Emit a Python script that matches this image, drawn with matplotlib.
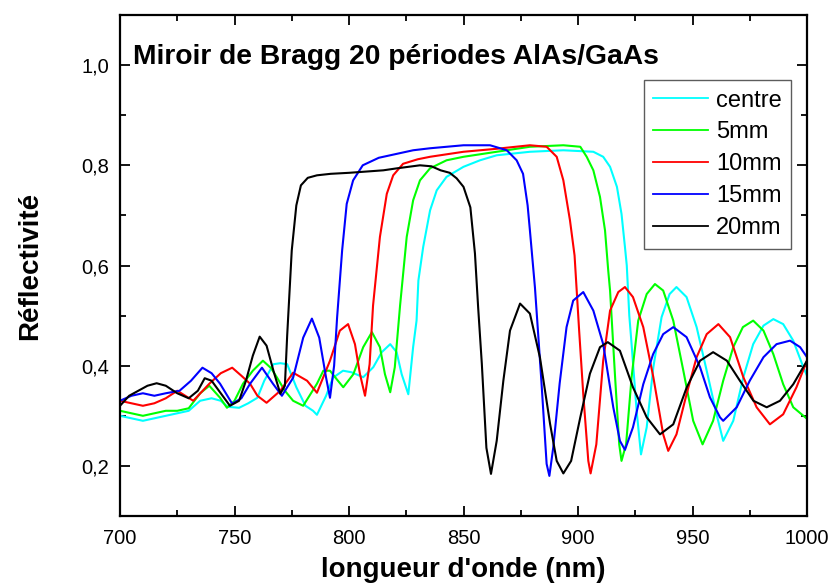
from __future__ import annotations

import matplotlib
matplotlib.use("Agg")
import matplotlib.pyplot as plt
from matplotlib.ticker import MultipleLocator

plt.rcParams["font.family"] = ["Liberation Sans", "DejaVu Sans"]

# values (wavelength in nm, reflectivity)
centre_nm = [700, 705, 710, 715, 720, 725, 730, 735, 740, 744, 747, 752, 756, 760, 763, 767,
             770, 773, 777, 781, 784.3, 786, 790, 793, 797.4, 801, 806.2, 810.6, 814.3, 818,
             820.8, 823, 825.9, 828, 829.5, 830.3, 832.4, 835.4, 838.3, 842.6, 850, 857.2,
             864.5, 879, 893.6, 906.7, 911, 914, 917, 919, 920.5, 921.3, 922.4, 923.4, 925.6,
             927.5, 930, 932.9, 936.5, 940, 943, 947.4, 951.8, 956.2, 960.5, 963.4, 967.8,
             972.2, 976.5, 981, 985.3, 989.6, 994, 998.4, 1000]
centre_r = [0.30, 0.295, 0.29, 0.295, 0.30, 0.305, 0.31, 0.33, 0.335, 0.33, 0.318, 0.316, 0.325,
            0.336, 0.37, 0.403, 0.405, 0.403, 0.357, 0.32, 0.31, 0.302, 0.34, 0.376, 0.39, 0.387,
            0.377, 0.397, 0.427, 0.443, 0.427, 0.383, 0.343, 0.437, 0.49, 0.57, 0.637, 0.71,
            0.75, 0.777, 0.797, 0.81, 0.82, 0.827, 0.83, 0.827, 0.817, 0.797, 0.757, 0.703,
            0.637, 0.60, 0.50, 0.443, 0.31, 0.223, 0.277, 0.397, 0.497, 0.543, 0.557, 0.537,
            0.477, 0.39, 0.303, 0.25, 0.29, 0.377, 0.443, 0.48, 0.493, 0.483, 0.45, 0.397, 0.38]

mm5_nm = [700, 705, 710, 715, 720, 725, 730, 735, 739, 743.7, 746.7, 750, 753.7, 758, 762.4,
          766, 768.6, 772, 775.6, 780, 786, 788.8, 791.7, 794.8, 797.5, 801.9, 806.2, 810,
          813.5, 815.7, 818, 820, 822.3, 825.2, 828, 831, 835.4, 842.6, 850, 864.5, 879,
          893.6, 901, 903.8, 906.7, 909.6, 911.8, 913.2, 914, 916.2, 918, 919, 921, 923.4,
          926.3, 930, 933.6, 937.2, 941.6, 946, 950.3, 954.4, 959, 963.4, 967.8, 972, 976.5,
          981, 985.3, 989.6, 994, 1000]
mm5_r = [0.31, 0.305, 0.30, 0.305, 0.31, 0.31, 0.315, 0.345, 0.36, 0.336, 0.316, 0.33, 0.364,
         0.39, 0.41, 0.395, 0.376, 0.35, 0.33, 0.32, 0.364, 0.39, 0.39, 0.372, 0.357, 0.383,
         0.437, 0.467, 0.437, 0.383, 0.347, 0.397, 0.52, 0.657, 0.73, 0.77, 0.794, 0.81, 0.817,
         0.827, 0.837, 0.84, 0.837, 0.817, 0.79, 0.737, 0.67, 0.59, 0.55, 0.377, 0.243, 0.21,
         0.243, 0.377, 0.49, 0.543, 0.563, 0.55, 0.49, 0.39, 0.29, 0.243, 0.29, 0.37, 0.437,
         0.477, 0.49, 0.47, 0.423, 0.363, 0.317, 0.294]

mm10_nm = [700, 705, 710, 715, 720, 725, 732, 739, 744, 749, 753, 756.8, 760, 764, 770, 775.6,
           781.7, 786, 791.7, 796, 799.6, 802.6, 804.8, 807, 809, 810.5, 813.5, 816.5, 819.3,
           823.6, 830, 835.4, 850, 864.5, 879, 886.3, 890.7, 893.6, 896.5, 898.5, 900.5, 902.3,
           904.5, 905.5, 908, 911, 914, 917.6, 920.5, 924, 928.5, 932.9, 937.2, 939.4, 943,
           947.4, 951.8, 956.2, 961.3, 966.4, 972.2, 978, 983.8, 989.6, 995.4, 1000]
mm10_r = [0.33, 0.325, 0.32, 0.325, 0.335, 0.35, 0.33, 0.364, 0.385, 0.396, 0.38, 0.364, 0.34,
          0.326, 0.35, 0.386, 0.37, 0.346, 0.41, 0.47, 0.483, 0.443, 0.383, 0.34, 0.403, 0.52,
          0.657, 0.743, 0.78, 0.803, 0.812, 0.817, 0.827, 0.833, 0.84, 0.837, 0.817, 0.77, 0.69,
          0.62, 0.47, 0.343, 0.21, 0.185, 0.243, 0.41, 0.51, 0.547, 0.557, 0.537, 0.477, 0.377,
          0.263, 0.23, 0.263, 0.343, 0.417, 0.463, 0.483, 0.457, 0.377, 0.317, 0.283, 0.303,
          0.357, 0.41]

mm15_nm = [700, 705, 710, 715, 720, 726, 731, 736, 740, 743.7, 749, 753, 756.8, 762, 766.8,
           770.7, 775.6, 780, 783.8, 787, 790, 791.7, 793.5, 794.8, 797, 799, 801.8, 806, 813,
           821, 828, 835.4, 850, 861.6, 868.9, 873.2, 876, 878, 879, 881.2, 882.5, 884, 886.3,
           887.5, 889.2, 892, 895, 897.9, 902.3, 906.7, 911, 915.4, 918.3, 920.5, 924, 928.5,
           932.8, 937.2, 941.6, 947.4, 953.3, 957.6, 962, 963.4, 969.3, 975, 981, 986.7, 992.6,
           997, 1000]
mm15_r = [0.33, 0.34, 0.345, 0.34, 0.345, 0.35, 0.37, 0.396, 0.385, 0.364, 0.324, 0.335, 0.364,
          0.396, 0.364, 0.34, 0.376, 0.456, 0.494, 0.456, 0.376, 0.336, 0.40, 0.496, 0.63, 0.723,
          0.77, 0.80, 0.815, 0.823, 0.83, 0.834, 0.84, 0.84, 0.83, 0.81, 0.783, 0.72, 0.67,
          0.556, 0.47, 0.37, 0.204, 0.18, 0.237, 0.365, 0.477, 0.53, 0.547, 0.51, 0.443, 0.317,
          0.25, 0.232, 0.277, 0.363, 0.423, 0.463, 0.477, 0.457, 0.397, 0.337, 0.297, 0.29,
          0.317, 0.37, 0.417, 0.443, 0.45, 0.437, 0.417]

mm20_nm = [700, 704, 708, 712, 716, 720, 725, 730, 734, 737, 740, 744, 748, 752, 755, 758, 761,
           764, 767, 770, 772, 773, 775, 777, 779, 782, 786, 792, 800, 806, 815, 821, 831, 836,
           840, 844, 847, 850, 853, 855, 856.4, 858, 860, 862, 864.5, 867.4, 870.3, 874.7, 879,
           883.4, 887.8, 890.7, 893.6, 897, 901, 905.2, 909.6, 913, 918.3, 924, 930, 935.8,
           941.6, 947.5, 953.3, 959, 965, 970.7, 976.6, 982.4, 988.2, 994, 1000]
mm20_r = [0.32, 0.34, 0.35, 0.36, 0.365, 0.36, 0.345, 0.335, 0.35, 0.375, 0.37, 0.345, 0.32,
          0.33, 0.37, 0.42, 0.458, 0.44, 0.39, 0.344, 0.36, 0.46, 0.63, 0.72, 0.76, 0.775, 0.78,
          0.783, 0.785, 0.787, 0.79, 0.794, 0.80, 0.798, 0.79, 0.785, 0.774, 0.757, 0.716, 0.624,
          0.516, 0.404, 0.236, 0.184, 0.25, 0.37, 0.47, 0.524, 0.504, 0.416, 0.284, 0.21, 0.185,
          0.21, 0.297, 0.384, 0.437, 0.447, 0.43, 0.357, 0.297, 0.263, 0.283, 0.357, 0.41, 0.427,
          0.41, 0.37, 0.33, 0.317, 0.33, 0.363, 0.41]

series_labels = ["centre", "5mm", "10mm", "15mm", "20mm"]
series_colors = ["#00FFFF", "#00FF00", "#FF0000", "#0000FF", "#000000"]

x_ticks = [700, 750, 800, 850, 900, 950, 1000]
y_ticks = [0.2, 0.4, 0.6, 0.8, 1.0]
y_tick_labels = ["0,2", "0,4", "0,6", "0,8", "1,0"]

title_text = "Miroir de Bragg 20 périodes AlAs/GaAs"
x_label = "longueur d'onde (nm)"
y_label = "Réflectivité"


def draw() -> None:
    fig = plt.figure(figsize=(8.31, 5.86), dpi=100)
    ax = fig.add_axes([120 / 831, 70 / 586, 687 / 831, 501 / 586])

    curves = [
        (centre_nm, centre_r),
        (mm5_nm, mm5_r),
        (mm10_nm, mm10_r),
        (mm15_nm, mm15_r),
        (mm20_nm, mm20_r),
    ]
    for (x, y), label, color in zip(curves, series_labels, series_colors):
        ax.plot(x, y, color=color, lw=1.5, label=label)

    ax.set_xlim(700, 1000)
    ax.set_ylim(0.1, 1.1)
    ax.set_xticks(x_ticks)
    ax.set_yticks(y_ticks)
    ax.set_yticklabels(y_tick_labels)
    ax.xaxis.set_minor_locator(MultipleLocator(25))
    ax.yaxis.set_minor_locator(MultipleLocator(0.1))

    ax.tick_params(which="both", direction="in", top=True, right=True,
                   width=1.3, labelsize=14.5)
    ax.tick_params(which="major", length=7.5)
    ax.tick_params(which="minor", length=4)
    ax.tick_params(axis="x", pad=9)
    ax.tick_params(axis="y", pad=8)
    for spine in ax.spines.values():
        spine.set_linewidth(1.6)

    ax.set_xlabel(x_label, fontsize=20, fontweight="bold", labelpad=7)
    ax.set_ylabel(y_label, fontsize=20, fontweight="bold", labelpad=27)

    ax.text(0.019, 0.903, title_text, transform=ax.transAxes,
            fontsize=20.3, fontweight="bold", va="baseline", ha="left")

    leg = ax.legend(loc="upper right", bbox_to_anchor=(0.977, 0.870),
                    borderaxespad=0, fontsize=17, frameon=True, fancybox=False,
                    handlelength=2.3, handletextpad=0.35, labelspacing=0.42,
                    borderpad=0.4)
    leg.get_frame().set_edgecolor("#333333")
    leg.get_frame().set_linewidth(1.0)
    for line in leg.get_lines():
        line.set_linewidth(1.3)

    fig.savefig("out.png", dpi=100)
    plt.close(fig)


if __name__ == "__main__":
    draw()
